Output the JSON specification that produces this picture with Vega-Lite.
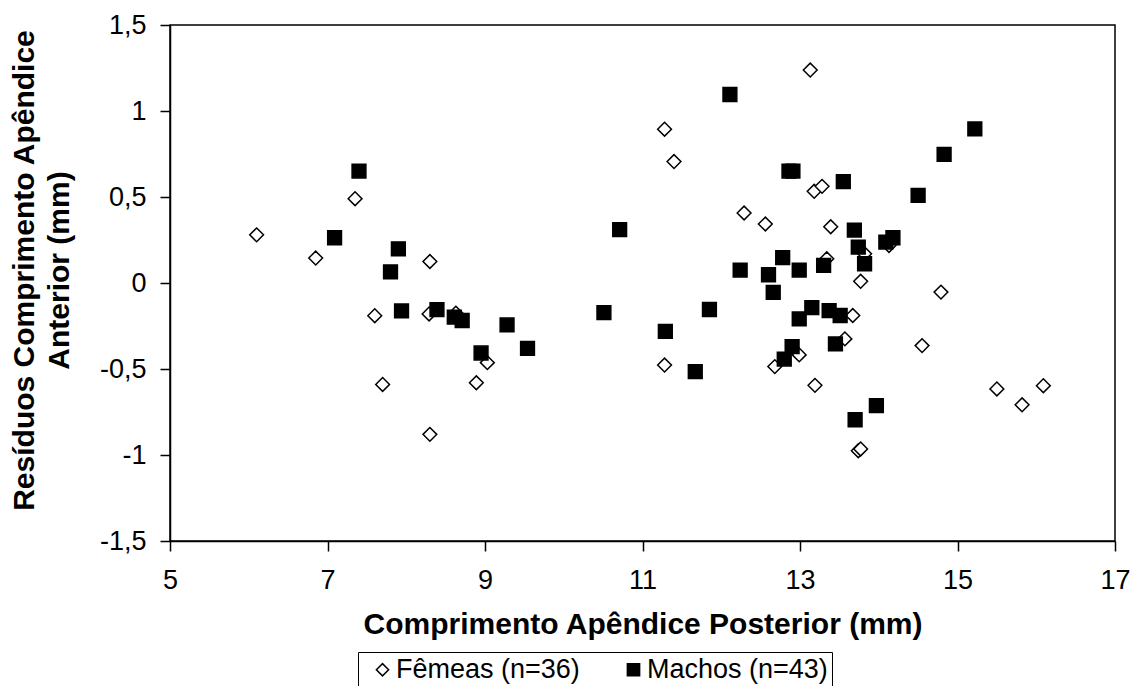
{
  "$schema": "https://vega.github.io/schema/vega-lite/v6.json",
  "width": 945,
  "height": 516,
  "autosize": {"type": "none"},
  "padding": {"left": 170, "top": 25, "right": 29, "bottom": 145},
  "background": "white",
  "config": {
    "view": {"stroke": "black", "strokeWidth": 1.5},
    "font": "Liberation Sans"
  },
  "data": {
    "values": [
      {"x": 6.10, "y": 0.28, "grupo": "Fêmeas (n=36)"},
      {"x": 6.85, "y": 0.145, "grupo": "Fêmeas (n=36)"},
      {"x": 7.35, "y": 0.49, "grupo": "Fêmeas (n=36)"},
      {"x": 7.60, "y": -0.19, "grupo": "Fêmeas (n=36)"},
      {"x": 7.70, "y": -0.59, "grupo": "Fêmeas (n=36)"},
      {"x": 8.29, "y": -0.18, "grupo": "Fêmeas (n=36)"},
      {"x": 8.30, "y": 0.125, "grupo": "Fêmeas (n=36)"},
      {"x": 8.30, "y": -0.88, "grupo": "Fêmeas (n=36)"},
      {"x": 8.63, "y": -0.175, "grupo": "Fêmeas (n=36)"},
      {"x": 8.89, "y": -0.58, "grupo": "Fêmeas (n=36)"},
      {"x": 9.03, "y": -0.463, "grupo": "Fêmeas (n=36)"},
      {"x": 11.28, "y": 0.894, "grupo": "Fêmeas (n=36)"},
      {"x": 11.40, "y": 0.706, "grupo": "Fêmeas (n=36)"},
      {"x": 11.28, "y": -0.477, "grupo": "Fêmeas (n=36)"},
      {"x": 12.29, "y": 0.407, "grupo": "Fêmeas (n=36)"},
      {"x": 12.56, "y": 0.343, "grupo": "Fêmeas (n=36)"},
      {"x": 12.68, "y": -0.486, "grupo": "Fêmeas (n=36)"},
      {"x": 12.99, "y": -0.418, "grupo": "Fêmeas (n=36)"},
      {"x": 13.13, "y": 1.238, "grupo": "Fêmeas (n=36)"},
      {"x": 13.18, "y": 0.533, "grupo": "Fêmeas (n=36)"},
      {"x": 13.28, "y": 0.562, "grupo": "Fêmeas (n=36)"},
      {"x": 13.19, "y": -0.595, "grupo": "Fêmeas (n=36)"},
      {"x": 13.34, "y": 0.141, "grupo": "Fêmeas (n=36)"},
      {"x": 13.39, "y": 0.327, "grupo": "Fêmeas (n=36)"},
      {"x": 13.57, "y": -0.325, "grupo": "Fêmeas (n=36)"},
      {"x": 13.67, "y": -0.189, "grupo": "Fêmeas (n=36)"},
      {"x": 13.77, "y": 0.01, "grupo": "Fêmeas (n=36)"},
      {"x": 13.82, "y": 0.17, "grupo": "Fêmeas (n=36)"},
      {"x": 13.74, "y": -0.975, "grupo": "Fêmeas (n=36)"},
      {"x": 13.77, "y": -0.965, "grupo": "Fêmeas (n=36)"},
      {"x": 14.13, "y": 0.218, "grupo": "Fêmeas (n=36)"},
      {"x": 14.55, "y": -0.364, "grupo": "Fêmeas (n=36)"},
      {"x": 14.79, "y": -0.053, "grupo": "Fêmeas (n=36)"},
      {"x": 15.50, "y": -0.616, "grupo": "Fêmeas (n=36)"},
      {"x": 15.82, "y": -0.708, "grupo": "Fêmeas (n=36)"},
      {"x": 16.09, "y": -0.597, "grupo": "Fêmeas (n=36)"},
      {"x": 7.09, "y": 0.263, "grupo": "Machos (n=43)"},
      {"x": 7.40, "y": 0.651, "grupo": "Machos (n=43)"},
      {"x": 7.80, "y": 0.065, "grupo": "Machos (n=43)"},
      {"x": 7.90, "y": 0.199, "grupo": "Machos (n=43)"},
      {"x": 7.94, "y": -0.162, "grupo": "Machos (n=43)"},
      {"x": 8.39, "y": -0.155, "grupo": "Machos (n=43)"},
      {"x": 8.61, "y": -0.199, "grupo": "Machos (n=43)"},
      {"x": 8.71, "y": -0.218, "grupo": "Machos (n=43)"},
      {"x": 8.95, "y": -0.407, "grupo": "Machos (n=43)"},
      {"x": 9.28, "y": -0.244, "grupo": "Machos (n=43)"},
      {"x": 9.54, "y": -0.38, "grupo": "Machos (n=43)"},
      {"x": 10.51, "y": -0.172, "grupo": "Machos (n=43)"},
      {"x": 10.71, "y": 0.31, "grupo": "Machos (n=43)"},
      {"x": 11.29, "y": -0.281, "grupo": "Machos (n=43)"},
      {"x": 11.67, "y": -0.515, "grupo": "Machos (n=43)"},
      {"x": 11.85, "y": -0.154, "grupo": "Machos (n=43)"},
      {"x": 12.11, "y": 1.096, "grupo": "Machos (n=43)"},
      {"x": 12.24, "y": 0.075, "grupo": "Machos (n=43)"},
      {"x": 12.60, "y": 0.048, "grupo": "Machos (n=43)"},
      {"x": 12.66, "y": -0.054, "grupo": "Machos (n=43)"},
      {"x": 12.78, "y": 0.147, "grupo": "Machos (n=43)"},
      {"x": 12.80, "y": -0.442, "grupo": "Machos (n=43)"},
      {"x": 12.86, "y": 0.651, "grupo": "Machos (n=43)"},
      {"x": 12.91, "y": 0.651, "grupo": "Machos (n=43)"},
      {"x": 12.90, "y": -0.37, "grupo": "Machos (n=43)"},
      {"x": 12.99, "y": 0.075, "grupo": "Machos (n=43)"},
      {"x": 12.99, "y": -0.209, "grupo": "Machos (n=43)"},
      {"x": 13.15, "y": -0.143, "grupo": "Machos (n=43)"},
      {"x": 13.30, "y": 0.102, "grupo": "Machos (n=43)"},
      {"x": 13.37, "y": -0.16, "grupo": "Machos (n=43)"},
      {"x": 13.45, "y": -0.354, "grupo": "Machos (n=43)"},
      {"x": 13.51, "y": -0.189, "grupo": "Machos (n=43)"},
      {"x": 13.55, "y": 0.589, "grupo": "Machos (n=43)"},
      {"x": 13.69, "y": 0.308, "grupo": "Machos (n=43)"},
      {"x": 13.70, "y": -0.795, "grupo": "Machos (n=43)"},
      {"x": 13.74, "y": 0.209, "grupo": "Machos (n=43)"},
      {"x": 13.82, "y": 0.112, "grupo": "Machos (n=43)"},
      {"x": 13.97, "y": -0.713, "grupo": "Machos (n=43)"},
      {"x": 14.09, "y": 0.238, "grupo": "Machos (n=43)"},
      {"x": 14.18, "y": 0.263, "grupo": "Machos (n=43)"},
      {"x": 14.50, "y": 0.51, "grupo": "Machos (n=43)"},
      {"x": 14.83, "y": 0.748, "grupo": "Machos (n=43)"},
      {"x": 15.22, "y": 0.896, "grupo": "Machos (n=43)"}
    ]
  },
  "mark": {"type": "point", "filled": true, "size": 190, "strokeWidth": 1.5, "opacity": 1},
  "encoding": {
    "x": {
      "field": "x", "type": "quantitative",
      "scale": {"domain": [5, 17], "nice": false, "zero": false},
      "axis": {
        "values": [5, 7, 9, 11, 13, 15, 17],
        "grid": false,
        "domainColor": "black", "domainWidth": 1.5,
        "tickColor": "black", "tickWidth": 1.5, "tickSize": 10,
        "labelFont": "Liberation Sans", "labelFontSize": 27, "labelColor": "black", "labelPadding": 16,
        "labelFlush": false,
        "title": "Comprimento Apêndice Posterior (mm)",
        "titleFont": "Liberation Sans", "titleFontSize": 30, "titleFontWeight": "bold", "titleColor": "black",
        "titlePadding": 16
      }
    },
    "y": {
      "field": "y", "type": "quantitative",
      "scale": {"domain": [-1.5, 1.5], "nice": false, "zero": false},
      "axis": {
        "values": [-1.5, -1, -0.5, 0, 0.5, 1, 1.5],
        "labelExpr": "replace(toString(datum.value), '.', ',')",
        "grid": false,
        "domainColor": "black", "domainWidth": 1.5,
        "tickColor": "black", "tickWidth": 1.5, "tickSize": 10,
        "labelFont": "Liberation Sans", "labelFontSize": 27, "labelColor": "black", "labelPadding": 14,
        "labelFlush": false,
        "title": ["Resíduos Comprimento Apêndice", "Anterior (mm)"],
        "titleFont": "Liberation Sans", "titleFontSize": 30, "titleFontWeight": "bold", "titleColor": "black",
        "titleLineHeight": 35,
        "titleAngle": -90,
        "titleAlign": "center",
        "titleBaseline": "top",
        "titleX": -161,
        "titleY": 245
      }
    },
    "shape": {
      "field": "grupo", "type": "nominal",
      "scale": {"domain": ["Fêmeas (n=36)", "Machos (n=43)"], "range": ["diamond", "square"]},
      "legend": {
        "title": null,
        "orient": "none",
        "legendX": 188,
        "legendY": 627,
        "direction": "horizontal",
        "strokeColor": "black",
        "fillColor": "white",
        "padding": 4,
        "symbolOffset": 7,
        "columnPadding": 33,
        "labelFont": "Liberation Sans",
        "labelFontSize": 27,
        "labelColor": "black",
        "labelOffset": 0,
        "labelLimit": 400,
        "symbolSize": 150,
        "symbolStrokeWidth": 1.5
      }
    },
    "fill": {
      "field": "grupo", "type": "nominal",
      "scale": {"domain": ["Fêmeas (n=36)", "Machos (n=43)"], "range": ["white", "black"]}
    },
    "stroke": {
      "field": "grupo", "type": "nominal",
      "scale": {"domain": ["Fêmeas (n=36)", "Machos (n=43)"], "range": ["black", "black"]}
    }
  }
}
